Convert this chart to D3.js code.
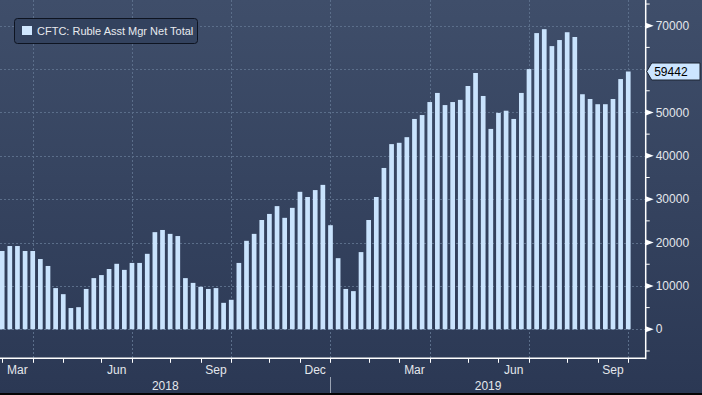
<!DOCTYPE html>
<html>
<head>
<meta charset="utf-8">
<script src="https://cdn.jsdelivr.net/npm/d3@7"></script>
<style>
  body { margin: 0; background: #2c3a55; }
  svg { display: block; font-family: "Liberation Sans", Arial, sans-serif; }
</style>
</head>
<body>
<div id="chart"></div>
<script>
// weekly CFTC data, first report date and values (contracts)
const firstWeek = "2018-03-06";
const netTotal = [
  18050, 19200, 19200, 18050, 18050, 16200, 14600, 9500, 8100, 4900,
  5100, 9300, 11800, 12500, 13900, 15100, 13700, 15300, 15300, 17400,
  22400, 22900, 22000, 21500, 11800, 10700, 9800, 9300, 9500, 6100,
  6800, 15300, 20400, 22000, 25200, 26600, 28400, 25700, 28000, 31700,
  30500, 32100, 33300, 24000, 16400, 9300, 8800, 17800, 25200, 30500,
  37200, 42700, 43000, 44300, 48500, 49400, 52400, 54500, 51700, 52400,
  52900, 56100, 59100, 53800, 46200, 49900, 50400, 48500, 54500, 60000,
  68300, 69200, 65300, 66700, 68500, 67400, 54200, 53100, 51900, 51900,
  53100, 57700, 59442
];
const yTicks = [0, 10000, 20000, 30000, 40000, 50000, 60000, 70000];
const yMinor = [-5000, 5000, 15000, 25000, 35000, 45000, 55000, 65000, 75000];
const quarterMonths = [2, 5, 8, 11]; // Mar, Jun, Sep, Dec labelled
const seriesName = "CFTC: Ruble Asst Mgr Net Total";

const width = 702, height = 395;
const axisX = 645.7, axisY = 358.3;

const start = d3.utcParse("%Y-%m-%d")(firstWeek);
const dates = d3.utcTuesday.range(start, d3.utcDay.offset(start, 7 * netTotal.length));
const data = dates.map((d, i) => ({ date: d, value: netTotal[i] }));
const last = data[data.length - 1];

const x = d3.scaleUtc()
  .domain([d3.utcDay.offset(start, -2), d3.utcDay.offset(last.date, 16)])
  .range([0, axisX]);

const y = d3.scaleLinear()
  .domain([-6690, 75930])
  .range([axisY, 0]);

const ly = y(last.value);
// axis labels hidden behind the last value tag
const visibleTicks = yTicks.filter(d => Math.abs(y(d) - ly) > 12);

const svg = d3.select("#chart").append("svg")
  .attr("width", width)
  .attr("height", height);

// background gradient
const defs = svg.append("defs");
const bg = defs.append("linearGradient").attr("id", "bg")
  .attr("x1", 0).attr("y1", 0).attr("x2", 0).attr("y2", 1);
bg.append("stop").attr("offset", "0%").attr("stop-color", "#3f4e6a");
bg.append("stop").attr("offset", "100%").attr("stop-color", "#2b3854");

svg.append("rect").attr("width", width).attr("height", height).attr("fill", "url(#bg)");
svg.append("rect").attr("y", height - 2).attr("width", width).attr("height", 2).attr("fill", "#050505");

// first bar of each month
const monthStarts = data.filter((d, i) =>
  i === 0 || d.date.getUTCMonth() !== data[i - 1].date.getUTCMonth());

// grid
const grid = svg.append("g")
  .attr("stroke", "#5b6e8a")
  .attr("stroke-width", 1)
  .attr("stroke-dasharray", "2,2");

grid.selectAll("line.h")
  .data(yTicks)
  .join("line")
  .attr("x1", 0).attr("x2", axisX)
  .attr("y1", d => Math.round(y(d)) + 0.5)
  .attr("y2", d => Math.round(y(d)) + 0.5);

grid.selectAll("line.v")
  .data(monthStarts.filter(d => d.date.getUTCMonth() % 3 === 0))
  .join("line")
  .attr("x1", d => Math.round(x(d.date)) + 0.5)
  .attr("x2", d => Math.round(x(d.date)) + 0.5)
  .attr("y1", 0).attr("y2", axisY);

// bars
const barW = 4.7;
svg.append("g")
  .selectAll("rect")
  .data(data)
  .join("rect")
  .attr("x", d => x(d.date) - barW / 2)
  .attr("width", barW)
  .attr("y", d => y(Math.max(0, d.value)))
  .attr("height", d => Math.abs(y(d.value) - y(0)))
  .attr("fill", "#c9e3fd");

// right axis
const ax = svg.append("g").attr("fill", "#e4e7ec").attr("stroke", "#ffffff");
ax.append("line")
  .attr("x1", axisX).attr("x2", axisX)
  .attr("y1", 0).attr("y2", axisY + 1)
  .attr("stroke-width", 1.5);

ax.selectAll("path.tri")
  .data(visibleTicks)
  .join("path")
  .attr("d", d => `M${axisX},${y(d) - 3}L${axisX + 8},${y(d)}L${axisX},${y(d) + 3}Z`)
  .attr("fill", "#ffffff")
  .attr("stroke", "none");

ax.selectAll("line.minor")
  .data(yMinor)
  .join("line")
  .attr("x1", axisX).attr("x2", axisX + 4)
  .attr("y1", d => y(d)).attr("y2", d => y(d));

ax.selectAll("text")
  .data(visibleTicks)
  .join("text")
  .attr("x", axisX + 10)
  .attr("y", d => y(d))
  .attr("dy", "0.35em")
  .attr("stroke", "none")
  .attr("font-size", 12)
  .text(d => d);

// bottom axis
const bx = svg.append("g").attr("stroke", "#ffffff");
bx.append("line")
  .attr("x1", 0).attr("x2", axisX)
  .attr("y1", axisY).attr("y2", axisY)
  .attr("stroke-width", 1.5);

bx.selectAll("line.tick")
  .data(monthStarts)
  .join("line")
  .attr("x1", d => Math.round(x(d.date)) + 0.5)
  .attr("x2", d => Math.round(x(d.date)) + 0.5)
  .attr("y1", axisY).attr("y2", axisY + 4.5);

// month labels centered in month span
const monthLabels = monthStarts
  .map((d, i) => ({
    date: d.date,
    x0: x(d.date),
    x1: i + 1 < monthStarts.length ? x(monthStarts[i + 1].date) : x(last.date)
  }))
  .filter(d => quarterMonths.includes(d.date.getUTCMonth()) && d.x1 > d.x0);

const fmtMonth = d3.utcFormat("%b");
svg.append("g")
  .selectAll("text")
  .data(monthLabels)
  .join("text")
  .attr("x", d => (d.x0 + d.x1) / 2)
  .attr("y", 374)
  .attr("text-anchor", "middle")
  .attr("font-size", 12)
  .attr("fill", "#e4e7ec")
  .text(d => fmtMonth(d.date));

// years
const janStart = monthStarts.find(d => d.date.getUTCMonth() === 0);
const years = [
  { label: "2018", x0: 0, x1: x(janStart.date) },
  { label: "2019", x0: x(janStart.date), x1: axisX }
];
svg.append("line")
  .attr("x1", Math.round(x(janStart.date)) + 0.5)
  .attr("x2", Math.round(x(janStart.date)) + 0.5)
  .attr("y1", 377).attr("y2", 393)
  .attr("stroke", "#9aa3b3");

svg.append("g")
  .selectAll("text")
  .data(years)
  .join("text")
  .attr("x", d => (d.x0 + d.x1) / 2)
  .attr("y", 390)
  .attr("text-anchor", "middle")
  .attr("font-size", 12)
  .attr("fill", "#e4e7ec")
  .text(d => d.label);

// last value tag
svg.append("path")
  .attr("d", `M${axisX + 1},${ly}L${axisX + 6},${ly - 8.5}L700,${ly - 8.5}L700,${ly + 8.5}L${axisX + 6},${ly + 8.5}Z`)
  .attr("fill", "#cce5ff")
  .attr("stroke", "#1c2433");
svg.append("text")
  .attr("x", axisX + 8.5)
  .attr("y", ly)
  .attr("dy", "0.36em")
  .attr("font-size", 12)
  .attr("fill", "#000000")
  .text(last.value);

// legend
const lg = svg.append("g");
lg.append("rect")
  .attr("x", 14.5).attr("y", 18.5)
  .attr("width", 183).attr("height", 25)
  .attr("rx", 3)
  .attr("fill", "#33425e")
  .attr("stroke", "#0e1421");
lg.append("rect")
  .attr("x", 22).attr("y", 26)
  .attr("width", 10).attr("height", 9)
  .attr("fill", "#d0e7ff");
lg.append("text")
  .attr("x", 37).attr("y", 35)
  .attr("font-size", 11)
  .attr("fill", "#e8eaee")
  .text(seriesName);
</script>
</body>
</html>
